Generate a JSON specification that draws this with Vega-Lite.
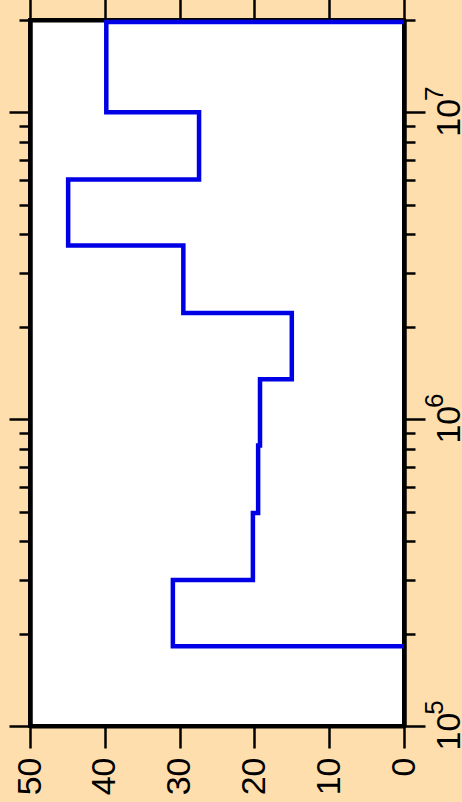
{
  "$schema": "https://vega.github.io/schema/vega-lite/v6.json",
  "width": 374,
  "height": 706,
  "autosize": {"type": "none"},
  "padding": {"left": 30, "top": 20, "right": 58, "bottom": 76},
  "background": "#ffdead",
  "config": {
    "view": {"fill": "white", "stroke": "black", "strokeWidth": 4},
    "axis": {
      "labelFont": "Liberation Sans",
      "labelColor": "black",
      "labelFontSize": 34,
      "tickColor": "black",
      "tickWidth": 2.5,
      "domainColor": "black",
      "domainWidth": 4,
      "grid": false,
      "labelFlush": false,
      "labelOverlap": false,
      "zindex": 1,
      "title": null
    }
  },
  "data": {
    "values": [
      {"i": 0, "e": 182000, "n": 0},
      {"i": 1, "e": 299000, "n": 30.9},
      {"i": 2, "e": 495000, "n": 20.2},
      {"i": 3, "e": 820000, "n": 19.5},
      {"i": 4, "e": 1350000, "n": 19.25},
      {"i": 5, "e": 2220000, "n": 15.0},
      {"i": 6, "e": 3680000, "n": 29.5},
      {"i": 7, "e": 6040000, "n": 44.9},
      {"i": 8, "e": 10000000, "n": 27.4},
      {"i": 9, "e": 19700000, "n": 39.8},
      {"i": 10, "e": 19700000, "n": 0}
    ]
  },
  "resolve": {"axis": {"x": "independent", "y": "independent"}},
  "layer": [
    {
      "mark": {"type": "line", "interpolate": "step-after", "color": "#0000e6", "strokeWidth": 4.5},
      "encoding": {
        "x": {
          "field": "n", "type": "quantitative",
          "scale": {"domain": [0, 50], "reverse": true, "nice": false, "zero": false},
          "axis": {"orient": "bottom", "values": [0, 10, 20, 30, 40, 50], "tickSize": 22, "labelAngle": 270, "labelAlign": "right", "labelBaseline": "middle", "labelPadding": 9}
        },
        "y": {
          "field": "e", "type": "quantitative",
          "scale": {"type": "log", "domain": [100000, 20000000], "nice": false},
          "axis": {"orient": "right", "values": [100000, 1000000, 10000000], "tickSize": 21, "labelAngle": 270, "labelAlign": "center", "labelBaseline": "top", "labelPadding": 7.5, "labelOffset": 5, "labelExpr": "'10'"}
        },
        "order": {"field": "i", "type": "quantitative"}
      }
    },
    {
      "mark": {"type": "point", "opacity": 0},
      "encoding": {
        "x": {"field": "n", "type": "quantitative", "axis": {"orient": "top", "values": [0, 10, 20, 30, 40, 50], "tickSize": 22, "labels": false}},
        "y": {"field": "e", "type": "quantitative", "axis": {"orient": "left", "values": [100000, 1000000, 10000000], "tickSize": 21, "labels": false}}
      }
    },
    {
      "mark": {"type": "point", "opacity": 0},
      "encoding": {
        "x": {"field": "n", "type": "quantitative", "axis": null},
        "y": {"field": "e", "type": "quantitative", "axis": {"orient": "left", "values": [200000, 300000, 400000, 500000, 600000, 700000, 800000, 900000, 2000000, 3000000, 4000000, 5000000, 6000000, 7000000, 8000000, 9000000, 20000000], "tickSize": 11, "labels": false}}
      }
    },
    {
      "mark": {"type": "point", "opacity": 0},
      "encoding": {
        "x": {"field": "n", "type": "quantitative", "axis": null},
        "y": {"field": "e", "type": "quantitative", "axis": {"orient": "right", "values": [200000, 300000, 400000, 500000, 600000, 700000, 800000, 900000, 2000000, 3000000, 4000000, 5000000, 6000000, 7000000, 8000000, 9000000, 20000000], "tickSize": 11, "labels": false}}
      }
    },
    {
      "mark": {"type": "point", "opacity": 0},
      "encoding": {
        "x": {"field": "n", "type": "quantitative", "axis": null},
        "y": {"field": "e", "type": "quantitative", "axis": {"orient": "right", "values": [100000, 1000000, 10000000], "ticks": false, "tickSize": 0, "domain": false, "labelFontSize": 26, "labelAngle": 270, "labelAlign": "center", "labelBaseline": "top", "labelPadding": 17, "labelOffset": -19, "labelExpr": "datum.value >= 9000000 ? '7' : datum.value >= 900000 ? '6' : '5'"}}
      }
    }
  ]
}
